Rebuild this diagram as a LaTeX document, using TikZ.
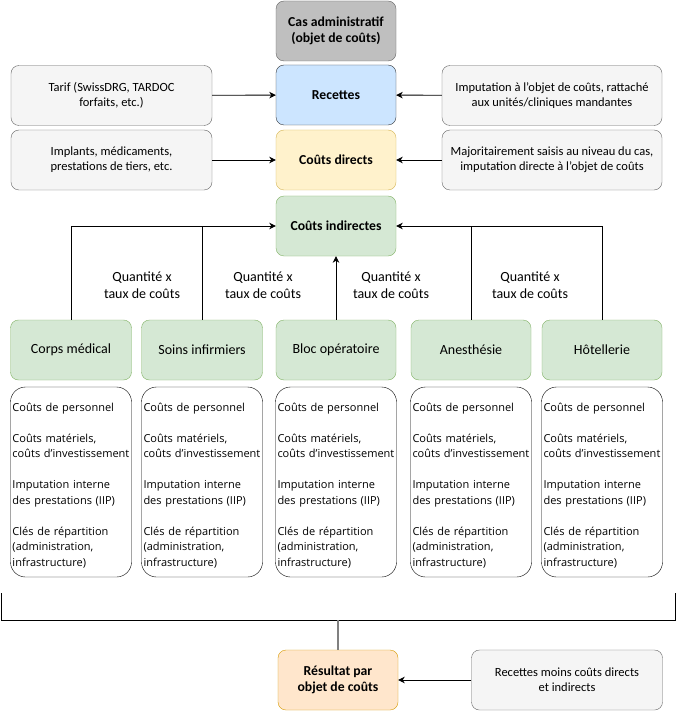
\documentclass[tikz,border=0pt]{standalone}
\usepackage{fontspec}
\setmainfont{Carlito}
\newfontfamily\listfont{Open Sans}
\usetikzlibrary{arrows.meta,positioning}
\definecolor{sidefill}{HTML}{F5F5F5}
\definecolor{sidedraw}{HTML}{666666}
\definecolor{casfill}{HTML}{BFBFBF}
\definecolor{recfill}{HTML}{CCE5FF}
\definecolor{recdraw}{HTML}{36393D}
\definecolor{dirfill}{HTML}{FFF2CC}
\definecolor{dirdraw}{HTML}{D6B656}
\definecolor{grnfill}{HTML}{D5E8D4}
\definecolor{grndraw}{HTML}{82B366}
\definecolor{resfill}{HTML}{FFE6CC}
\definecolor{resdraw}{HTML}{D79B00}
\definecolor{stemgray}{HTML}{808080}
\tikzset{
  box/.style={rectangle, rounded corners=8pt, minimum width=120pt, minimum height=60pt, inner sep=2pt, align=center, font=\fontsize{12.5}{15}\selectfont},
  mainbox/.style={box, font=\fontsize{13.7}{16.5}\selectfont\bfseries},
  grnbox/.style={box, fill=grnfill, draw=grndraw, font=\fontsize{14}{16}\selectfont},
  sidebox/.style={box, fill=sidefill, draw=sidedraw, minimum width=#1},
  listbox/.style={rectangle, rounded corners=15pt, draw=black, fill=white, minimum width=121pt, minimum height=190pt, text width=117pt, inner sep=2pt, align=left, font=\listfont\fontsize{11}{15.5}\selectfont},
  lbl/.style={align=center, font=\fontsize{14}{16.5}\selectfont},
  arr/.style={-{Stealth[length=6.5pt,width=6.5pt,inset=2pt]}, line width=0.9pt, black},
  ln/.style={line width=0.9pt, black},
}
\newcommand{\listtext}{\rule{0pt}{15pt}Coûts de personnel\\[15.5pt]Coûts matériels,\\coûts d’investissement\\[15.5pt]Imputation interne\\des prestations (IIP)\\[15.5pt]Clés de répartition\\(administration,\\infrastructure)}
\begin{document}
\begin{tikzpicture}[x=1pt,y=-1pt]
\useasboundingbox (0,0) rectangle (676,711);
\fill[white] (0,0) rectangle (676,711);
% central column
\node[mainbox, fill=casfill, draw=sidedraw] (cas) at (336,31) {Cas administratif\\(objet de coûts)};
\node[mainbox, fill=recfill, draw=recdraw] (rec) at (336,95) {Recettes};
\node[mainbox, fill=dirfill, draw=dirdraw] (dir) at (336,160) {Coûts directs};
\node[mainbox, fill=grnfill, draw=grndraw] (ind) at (336,226) {Coûts indirectes};
% side boxes
\node[sidebox=201pt] (tarif) at (111.5,95.5) {Tarif (SwissDRG, TARDOC\\forfaits, etc.)};
\node[sidebox=220pt] (imput) at (552,95.5) {Imputation à l’objet de coûts, rattaché\\aux unités/cliniques mandantes};
\node[sidebox=201pt] (impl) at (111.5,160) {Implants, médicaments,\\prestations de tiers, etc.};
\node[sidebox=220pt] (major) at (552,160) {Majoritairement saisis au niveau du cas,\\imputation directe à l’objet de coûts};
\draw[arr] (tarif) -- (rec);
\draw[arr] (imput) -- (rec);
\draw[arr] (impl) -- (dir);
\draw[arr] (major) -- (dir);
% cost centres
\node[grnbox, minimum width=121pt] (corps) at (71,350) {Corps médical};
\node[grnbox, minimum width=121pt] (soins) at (202,350) {Soins infirmiers};
\node[grnbox] (bloc) at (336,350) {Bloc opératoire};
\node[grnbox] (anes) at (471,350) {Anesthésie};
\node[grnbox] (hot) at (602,350) {Hôtellerie};
\draw[arr] (corps.north) |- (ind.west);
\draw[ln] (soins.north) -- (soins.north |- ind.west);
\draw[arr] (hot.north) |- (ind.east);
\draw[ln] (anes.north) -- (anes.north |- ind.east);
\draw[arr] (bloc) -- (ind);
\node[lbl] (q1) at (142,285) {Quantité x\\taux de coûts};
\node[lbl] (q2) at (263,285) {Quantité x\\taux de coûts};
\node[lbl] (q3) at (391,285) {Quantité x\\taux de coûts};
\node[lbl] (q4) at (530,285) {Quantité x\\taux de coûts};
% lists
\node[listbox] (l1) at (71,482) {\listtext};
\node[listbox] (l2) at (202,482) {\listtext};
\node[listbox] (l3) at (336,482) {\listtext};
\node[listbox] (l4) at (471,482) {\listtext};
\node[listbox] (l5) at (602,482) {\listtext};
% bracket
\coordinate (b1) at (1,593);
\coordinate (b2) at (1,620);
\coordinate (b3) at (675,620);
\coordinate (b4) at (675,593);
\coordinate (bm) at (338,620);
\draw[ln] (b1) -- (b2) -- (b3) -- (b4);
% result
\node[mainbox, fill=resfill, draw=resdraw] (res) at (338,680) {Résultat par\\objet de coûts};
\node[sidebox=191pt] (moins) at (567,680) {Recettes moins coûts directs\\et indirects};
\draw[line width=1.2pt, stemgray] (bm) -- (res.north);
\draw[arr] (moins) -- (res);
\end{tikzpicture}
\end{document}
